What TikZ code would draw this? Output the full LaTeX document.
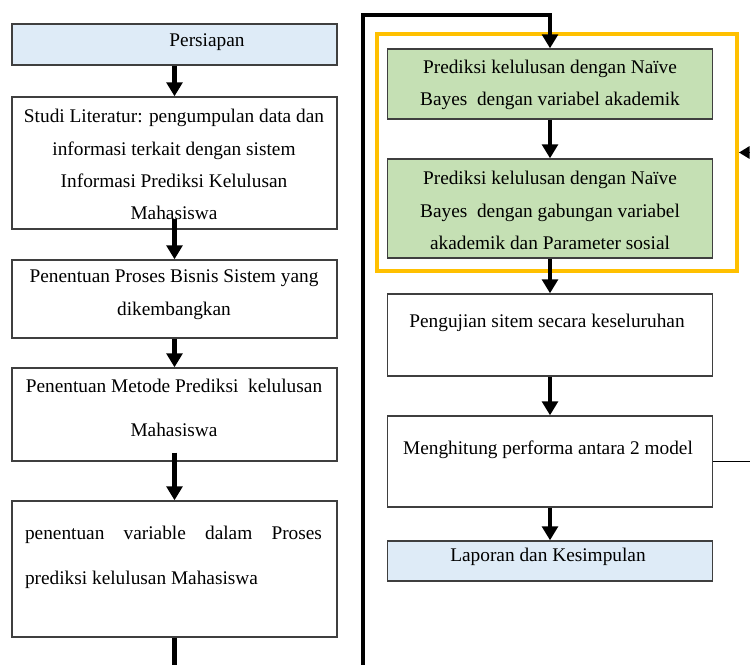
\documentclass[tikz,border=0pt]{standalone}
\usepackage{fontspec}
\setmainfont{Liberation Serif}
\usepackage{tikz}
\usetikzlibrary{arrows.meta,calc,positioning}
\definecolor{boxline}{HTML}{3F3F3F}
\definecolor{prep}{HTML}{DEEBF7}
\definecolor{model}{HTML}{C5E0B4}
\definecolor{group}{HTML}{FFC000}

\begin{document}
\begin{tikzpicture}[x=0.02cm,y=-0.02cm,
  box/.style={draw=boxline,line width=0.8pt,minimum width=6.5cm,inner sep=0pt},
  txt/.style={font=\fontsize{11}{18.3}\selectfont,align=center,inner sep=0pt},
  flow/.style={line width=2.4pt,-{Triangle[width=9pt,length=8pt]}}]
  \useasboundingbox (0,0) rectangle (750,664);
  \clip (0,0) rectangle (750,664);
  % left column
  \node[box,fill=prep,minimum height=0.82cm] (prep) at (174.5,44.5) {};
  \node[box,minimum height=2.64cm] (studi) at (174.5,163) {};
  \node[box,minimum height=1.56cm] (proses) at (174.5,299) {};
  \node[box,minimum height=1.86cm] (metode) at (174.5,414.5) {};
  \node[box,minimum height=2.72cm] (varb) at (174.5,569) {};
  \node[txt] (tprep) at (207,42) {Persiapan};
  \node[txt] (tstudi) at (174,164.5) {Studi Literatur: pengumpulan data dan\\
    informasi terkait dengan sistem\\ Informasi Prediksi Kelulusan\\ Mahasiswa};
  \node[txt,font=\fontsize{11}{18.7}\selectfont] (tproses) at (174,294.5)
    {Penentuan Proses Bisnis Sistem yang\\ dikembangkan};
  \node[txt,font=\fontsize{11}{25}\selectfont] (tmetode) at (174,408)
    {Penentuan Metode Prediksi\ \ kelulusan\\ Mahasiswa};
  \node[txt,align=justify,text width=5.94cm,font=\fontsize{11}{25.5}\selectfont] (tvarb)
    at (173.5,557.5) {penentuan variable dalam Proses\linebreak prediksi kelulusan Mahasiswa};
  % right column
  \node[draw=group,line width=2.3pt,minimum width=7.2cm,minimum height=4.74cm] (grp) at (557,152.5) {};
  \node[box,fill=model,minimum height=1.4cm] (nb1) at (550,84) {};
  \node[box,fill=model,minimum height=1.98cm] (nb2) at (550,208.5) {};
  \node[box,minimum height=1.64cm] (uji) at (550,335) {};
  \node[box,minimum height=1.82cm] (hitung) at (550,461.5) {};
  \node[box,fill=prep,minimum height=0.8cm] (lapor) at (550,561) {};
  \node[txt] (tnb1) at (550,84.5) {Prediksi kelulusan dengan Naïve\\ Bayes\ \ dengan variabel akademik};
  \node[txt] (tnb2) at (550,210.5) {Prediksi kelulusan dengan Naïve\\
    Bayes\ \ dengan gabungan variabel\\ akademik dan Parameter sosial};
  \node[txt] (tuji) at (547,323) {Pengujian sitem secara keseluruhan};
  \node[txt] (thitung) at (548,450) {Menghitung performa antara 2 model};
  \node[txt] (tlapor) at (548,557) {Laporan dan Kesimpulan};
  % connectors
  \draw[flow] (prep.south) -- (studi.north);
  \draw[flow] ($(studi.south)+(0,-11)$) -- (proses.north);
  \draw[flow] (proses.south) -- (metode.north);
  \draw[flow] ($(metode.south)+(0,-9)$) -- (varb.north);
  \draw[flow] (varb.south) -- ++(0,60) -| (363,15) -| (nb1.north);
  \draw[flow] (nb1.south) -- (nb2.north);
  \draw[flow] (nb2.south) -- (uji.north);
  \draw[flow] (uji.south) -- (hitung.north);
  \draw[flow] (hitung.south) -- (lapor.north);
  \draw[line width=1.1pt,-{Triangle[width=7pt,length=6pt]}] (hitung.east) -- ++(40,0) |- (grp.east);
\end{tikzpicture}
\end{document}
